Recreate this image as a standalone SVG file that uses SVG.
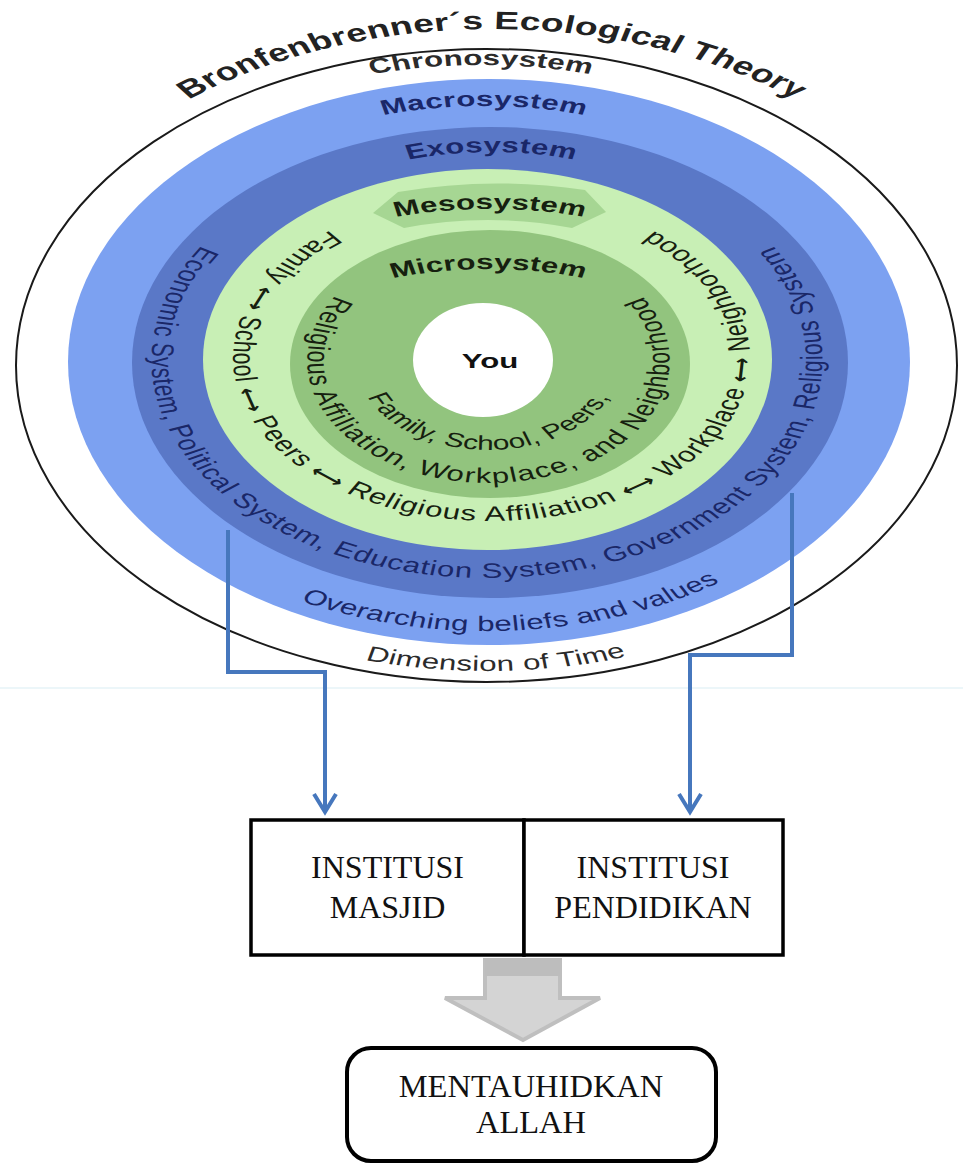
<svg xmlns="http://www.w3.org/2000/svg" width="963" height="1164" viewBox="0 0 963 1164">
<style>
  .lbl{font-family:"Liberation Sans",Arial,sans-serif;font-weight:bold;font-size:21px}
  .ring{font-family:"Liberation Sans",Arial,sans-serif;font-size:21px}
  .arw{font-family:"DejaVu Sans",sans-serif;font-weight:bold;font-size:17px}
  .navy{fill:#1a2768}
  .dark{fill:#16200f}
  .serif{font-family:"Liberation Serif","Times New Roman",serif;font-size:32px;fill:#111}
  .conn{fill:none;stroke:#4677bd;stroke-width:4}
  .box{fill:#fff;stroke:#000;stroke-width:3.5}
</style>
<defs>
  <path id="p-title" d="M3.4,331 A331,331 0 0 1 3.4,-331 A331,331 0 0 1 3.4,331"/>
  <path id="p-chrono" d="M-4,295 A295,295 0 0 1 -4,-295 A295,295 0 0 1 -4,295"/>
  <path id="p-macro" d="M-2,254 A254,254 0 0 1 -2,-254 A254,254 0 0 1 -2,254"/>
  <path id="p-exo" d="M3,208 A208,208 0 0 1 3,-208 A208,208 0 0 1 3,208"/>
  <path id="p-meso" d="M2,369 A260,260 0 0 1 2,-151 A260,260 0 0 1 2,369"/>
  <path id="p-micro" d="M1,369 A230,230 0 0 1 1,-91 A230,230 0 0 1 1,369"/>
  <path id="r-micro-out" d="M1,-121 A122,122 0 0 0 1,123 A122,122 0 0 0 1,-121"/>
  <path id="r-micro-in" d="M1,-88 A89,89 0 0 0 1,90 A89,89 0 0 0 1,-88"/>
  <path id="r-meso" d="M3,-165 A174,163 0 0 0 3,161 A174,163 0 0 0 3,-165"/>
  <path id="r-exo" d="M0,-218 A226,218 0 0 0 0,218 A226,218 0 0 0 0,-218"/>
  <path id="r-macro" d="M0,-271 A274,271 0 0 0 0,271 A274,271 0 0 0 0,-271"/>
  <path id="r-dim" d="M0,-311 A311,311 0 0 0 0,311 A311,311 0 0 0 0,-311"/>
</defs>
<rect width="963" height="1164" fill="#fff"/>
<line x1="0" y1="688" x2="963" y2="688" stroke="#ecf6f9" stroke-width="2"/>

<g id="ecological-model">
  <ellipse cx="486.5" cy="365.5" rx="470.5" ry="316.5" fill="#fff" stroke="#1a1a1a" stroke-width="2"/>
  <ellipse cx="489" cy="362" rx="421" ry="283" fill="#7ca1f1"/>
  <ellipse cx="490" cy="362.5" rx="358" ry="235.5" fill="#5a78c7"/>
  <ellipse cx="487.5" cy="359.5" rx="284.5" ry="190.5" fill="#c8efb5"/>
  <path d="M373,213 L398,192 Q491,176 585,190 L606,212 L572,228 Q488,212 404,228 Z" fill="#a6d693"/>
  <ellipse cx="490" cy="364" rx="200" ry="134" fill="#92c47e"/>
  <ellipse cx="483" cy="360" rx="70" ry="57" fill="#fff"/>
  <g transform="translate(487 360) scale(1.485 1)">
    <text class="lbl" fill="#222" style="font-size:25px" letter-spacing="0.2" text-anchor="middle"><textPath href="#p-title" startOffset="50%">Bronfenbrenner´s Ecological Theory</textPath></text>
    <text class="lbl" fill="#2b2b2b" letter-spacing="0.2" text-anchor="middle"><textPath href="#p-chrono" startOffset="50%">Chronosystem</textPath></text>
    <text class="lbl navy" letter-spacing="0.3" text-anchor="middle"><textPath href="#p-macro" startOffset="50%">Macrosystem</textPath></text>
    <text class="lbl navy" letter-spacing="0.3" text-anchor="middle"><textPath href="#p-exo" startOffset="50%">Exosystem</textPath></text>
    <text class="lbl dark" letter-spacing="0.2" text-anchor="middle"><textPath href="#p-meso" startOffset="50%">Mesosystem</textPath></text>
    <text class="lbl dark" letter-spacing="0.2" text-anchor="middle"><textPath href="#p-micro" startOffset="50%">Microsystem</textPath></text>
    <text class="lbl" fill="#111" x="2" y="8" text-anchor="middle">You</text>
    <text class="ring dark" letter-spacing="0.3" style="font-size:20px" text-anchor="middle"><textPath href="#r-micro-in" startOffset="50%">Family, School, Peers,</textPath></text>
    <text class="ring dark" letter-spacing="1" text-anchor="middle"><textPath href="#r-micro-out" startOffset="50%">Religious Affiliation, Workplace, and Neighborhood</textPath></text>
    <text class="ring dark" letter-spacing="0.8" text-anchor="middle"><textPath href="#r-meso" startOffset="50%">Family <tspan class="arw">⟷</tspan> School <tspan class="arw">⟷</tspan> Peers <tspan class="arw">⟷</tspan> Religious Affiliation <tspan class="arw">⟷</tspan> Workplace <tspan class="arw">⟷</tspan> Neighborhood</textPath></text>
    <text class="ring navy" letter-spacing="0.6" text-anchor="middle"><textPath href="#r-exo" startOffset="50%">Economic System, Political System, Education System, Government System, Religious System</textPath></text>
    <text class="ring navy" letter-spacing="0.3" text-anchor="middle"><textPath href="#r-macro" startOffset="874">Overarching beliefs and values</textPath></text>
    <text class="ring" fill="#2b2b2b" letter-spacing="0.3" text-anchor="middle"><textPath href="#r-dim" startOffset="983">Dimension of Time</textPath></text>
  </g>
</g>

<g id="connectors">
  <path class="conn" d="M228,530 V672 H325 V810"/>
  <path class="conn" d="M314,794 L325,812 L336,794"/>
  <path class="conn" d="M792,493 V655 H690 V810"/>
  <path class="conn" d="M679,794 L690,812 L701,794"/>
  <path d="M485,960 H560 V998 H600 L523,1040 L445,998 H485 Z" fill="#d4d4d4" stroke="#bfbfbf" stroke-width="4"/>
  <rect x="485" y="960" width="75" height="16" fill="#bdbdbd"/>
</g>

<g id="institusi-masjid">
  <rect class="box" x="251" y="820" width="273" height="135"/>
  <text class="serif" x="387.5" y="878" text-anchor="middle">INSTITUSI</text>
  <text class="serif" x="387.5" y="918" text-anchor="middle">MASJID</text>
</g>
<g id="institusi-pendidikan">
  <rect class="box" x="524" y="820" width="259" height="135"/>
  <text class="serif" x="653" y="878" text-anchor="middle">INSTITUSI</text>
  <text class="serif" x="653" y="918" text-anchor="middle">PENDIDIKAN</text>
</g>
<g id="mentauhidkan-allah">
  <rect x="347" y="1048" width="369" height="113" rx="24" fill="#fff" stroke="#000" stroke-width="4"/>
  <text class="serif" style="font-size:32.5px" x="531" y="1097" text-anchor="middle">MENTAUHIDKAN</text>
  <text class="serif" style="font-size:32.5px" x="531" y="1133" text-anchor="middle">ALLAH</text>
</g>
</svg>
